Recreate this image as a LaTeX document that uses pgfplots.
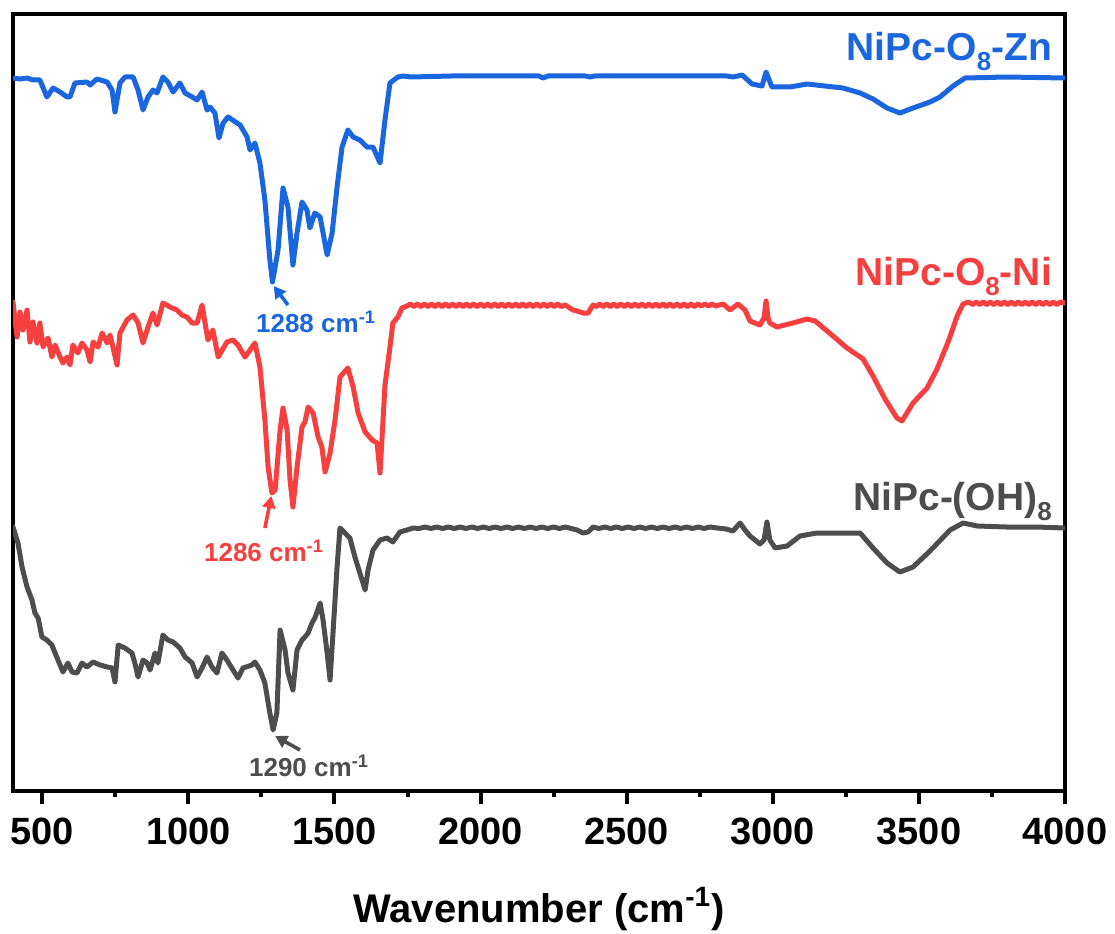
\documentclass[border=0pt]{standalone}
\usepackage{fontspec}
\setmainfont{Liberation Sans}
\usepackage{pgfplots}
\pgfplotsset{compat=1.18}
\usetikzlibrary{arrows.meta}
\definecolor{cblue}{RGB}{26,102,222}
\definecolor{cred}{RGB}{246,64,64}
\definecolor{cgray}{RGB}{77,77,77}
\newcommand{\sub}[1]{\raisebox{-5pt}{\fontsize{13}{13}\selectfont #1}}
\begin{document}
\begin{tikzpicture}
\path[use as bounding box] (-6.5pt,-71pt) rectangle (551pt,395.5pt);
\begin{axis}[
  at={(0,0)}, anchor=south west,
  scale only axis, width=526pt, height=388.5pt,
  xmin=400, xmax=4000, ymin=-791, ymax=-14,
  axis line style={line width=2pt},
  xtick={500,1000,...,4000}, minor x tick num=1,
  ytick=\empty, xtick pos=bottom,
  tick align=outside,
  major tick length=6.5pt, minor tick length=3pt,
  every tick/.style={black, line width=2pt},
  /pgf/number format/assume math mode=true,
  /pgf/number format/1000 sep={},
  xticklabel style={font=\bfseries\fontsize{19}{19}\selectfont, yshift=-3.5pt},
  xlabel={Wavenumber (cm\textsuperscript{-1})},
  xlabel style={font=\bfseries\fontsize{20}{20}\selectfont, at={(axis description cs:0.5,0)}, anchor=base, yshift=-65.5pt},
  clip=true,
  every axis plot/.style={line width=2.5pt, line join=round, line cap=round},
]
% NiPc-O8-Zn
\addplot[cblue] coordinates {
(400,-78)(424,-79)(448,-78)(468,-80)(492,-80)(516,-97)(537,-88)(561,-92)(585,-97)(595,-97)
(612,-83)(653,-82)(664,-85)(687,-79)(722,-82)(739,-90)(749,-112)(766,-83)(783,-77)(811,-77)
(828,-90)(845,-110)(862,-97)(879,-90)(893,-93)(913,-77)(930,-82)(948,-92)(971,-83)(989,-93)
(1013,-97)(1030,-100)(1047,-92)(1064,-110)(1074,-107)(1091,-113)(1105,-138)(1119,-123)(1136,-117)
(1177,-125)(1201,-137)(1211,-150)(1228,-143)(1245,-163)(1262,-200)(1279,-260)(1288,-282)
(1307,-250)(1324,-188)(1341,-207)(1358,-265)(1372,-233)(1389,-202)(1406,-210)(1416,-228)
(1433,-213)(1451,-217)(1475,-255)(1492,-233)(1509,-187)(1526,-147)(1546,-130)(1564,-137)
(1587,-140)(1611,-147)(1632,-147)(1656,-163)(1673,-120)(1690,-83)(1717,-77)(1735,-76)
(1760,-77)(1900,-76)(2100,-76)(2200,-76)(2214,-78)(2230,-76)(2360,-76)(2375,-77)(2390,-76)
(2600,-76)(2751,-76)(2843,-76)(2864,-77)(2895,-75)(2929,-84)(2963,-86)(2977,-72)(2997,-87)
(3059,-87)(3117,-84)(3240,-88)(3299,-93)(3343,-99)(3391,-108)(3435,-113)(3480,-108)(3538,-102)
(3572,-97)(3617,-86)(3658,-78)(3800,-77)(4000,-78)
};
% NiPc-O8-Ni
\addplot[cred] coordinates {
(400,-302)(414,-337)(424,-312)(434,-330)(448,-310)(458,-342)(468,-322)(482,-343)(492,-323)
(503,-347)(520,-338)(533,-357)(544,-345)(561,-357)(571,-363)(585,-357)(595,-365)(605,-345)
(622,-353)(636,-343)(653,-350)(664,-362)(674,-342)(691,-347)(705,-333)(722,-343)(732,-335)
(742,-347)(756,-365)(766,-333)(790,-320)(811,-315)(828,-323)(845,-343)(862,-327)(879,-313)
(893,-325)(913,-303)(937,-307)(961,-310)(978,-315)(995,-317)(1013,-323)(1030,-323)(1047,-305)
(1067,-340)(1084,-330)(1102,-357)(1132,-342)(1153,-340)(1170,-345)(1194,-357)(1211,-350)
(1228,-343)(1245,-367)(1262,-420)(1273,-467)(1286,-493)(1297,-490)(1314,-430)(1324,-408)
(1338,-430)(1348,-480)(1358,-507)(1372,-467)(1389,-427)(1399,-422)(1410,-407)(1427,-413)
(1444,-437)(1457,-447)(1468,-472)(1485,-453)(1502,-420)(1519,-377)(1546,-368)(1564,-387)
(1581,-413)(1605,-432)(1629,-440)(1646,-443)(1656,-473)(1673,-385)(1690,-347)(1700,-323)
(1717,-317)(1731,-308)(1748,-306)
(1760,-304)(1772,-306.5)(1784,-304)(1796,-306.5)(1808,-304)(1820,-306.5)(1832,-304)(1844,-306.5)
(1856,-304)(1868,-306.5)(1880,-304)(1892,-306.5)(1904,-304)(1916,-306.5)(1928,-304)(1940,-306.5)
(1952,-304)(1964,-306.5)(1976,-304)(1988,-306.5)(2000,-304)(2012,-306.5)(2024,-304)(2036,-306.5)
(2048,-304)(2060,-306.5)(2072,-304)(2084,-306.5)(2096,-304)(2108,-306.5)(2120,-304)(2132,-306.5)
(2144,-304)(2156,-306.5)(2168,-304)(2180,-306.5)(2192,-304)(2204,-306.5)(2216,-304)(2228,-306.5)
(2240,-304)(2252,-306.5)(2264,-304)(2276,-306.5)(2290,-305)(2316,-310)(2330,-311)(2351,-313)
(2368,-313)(2385,-305)(2396,-306.5)(2408,-304)(2420,-306.5)(2432,-304)(2444,-306.5)(2456,-304)
(2468,-306.5)(2480,-304)(2492,-306.5)(2504,-304)(2516,-306.5)(2528,-304)(2540,-306.5)(2552,-304)
(2564,-306.5)(2576,-304)(2588,-306.5)(2600,-304)(2612,-306.5)(2624,-304)(2636,-306.5)(2648,-304)
(2660,-306.5)(2672,-304)(2684,-306.5)(2696,-304)(2708,-306.5)(2720,-304)(2732,-306.5)(2744,-304)
(2756,-306)(2768,-304)(2780,-306)(2792,-304)(2804,-306)(2830,-304)(2854,-310)(2881,-304)
(2905,-310)(2922,-321)(2956,-325)(2970,-318)(2977,-301)(2984,-318)(2990,-323)(3014,-327)
(3069,-323)(3117,-319)(3145,-321)(3206,-336)(3254,-348)(3309,-359)(3343,-376)(3384,-399)
(3425,-418)(3442,-421)(3480,-403)(3528,-388)(3562,-369)(3600,-342)(3631,-316)(3651,-304)
(3670,-302)(3684,-304.5)(3696,-302)(3708,-304.5)(3720,-302)(3732,-304.5)(3744,-302)(3756,-304.5)
(3768,-302)(3780,-304.5)(3792,-302)(3804,-304.5)(3816,-302)(3828,-304.5)(3840,-302)(3852,-304.5)
(3864,-302)(3876,-304.5)(3888,-302)(3900,-304.5)(3912,-302)(3924,-304.5)(3936,-302)(3948,-304.5)
(3960,-302)(3972,-304.5)(3984,-302)(4000,-303)
};
% NiPc-(OH)8
\addplot[cgray] coordinates {
(400,-527)(417,-543)(431,-567)(448,-587)(465,-600)(475,-613)(486,-618)(499,-637)(516,-640)
(533,-645)(544,-653)(554,-660)(571,-672)(588,-663)(602,-672)(619,-673)(636,-663)(653,-667)
(674,-662)(698,-665)(722,-667)(739,-668)(749,-682)(760,-645)(783,-648)(807,-653)(817,-663)
(828,-677)(845,-660)(859,-663)(869,-670)(886,-653)(896,-663)(913,-635)(930,-640)(948,-642)
(971,-648)(989,-657)(1013,-663)(1030,-677)(1047,-668)(1064,-657)(1081,-667)(1098,-673)
(1115,-653)(1132,-660)(1153,-670)(1170,-678)(1187,-668)(1218,-665)(1228,-662)(1245,-670)
(1262,-683)(1279,-713)(1290,-730)(1303,-713)(1314,-630)(1331,-650)(1341,-673)(1358,-690)
(1372,-650)(1389,-640)(1399,-637)(1410,-633)(1423,-623)(1433,-618)(1451,-603)(1461,-620)
(1475,-653)(1485,-680)(1495,-633)(1509,-567)(1519,-528)(1536,-533)(1553,-538)(1570,-557)
(1587,-573)(1605,-590)(1615,-570)(1632,-550)(1656,-540)(1680,-538)(1700,-542)(1724,-532)
(1748,-530)(1769,-528)
(1790,-528.5)(1810,-527)(1830,-528.5)(1850,-527)(1870,-528.5)(1890,-527)(1910,-528.5)(1930,-527)
(1950,-528.5)(1970,-527)(1990,-528.5)(2010,-527)(2030,-528.5)(2050,-527)(2070,-528.5)(2090,-527)
(2110,-528.5)(2130,-527)(2150,-528.5)(2170,-527)(2190,-528.5)(2210,-527)(2230,-528.5)(2250,-527)
(2270,-528.5)(2290,-527)(2310,-528.5)(2330,-530)(2351,-533)(2368,-532)(2385,-527)(2405,-528.5)
(2425,-527)(2445,-528.5)(2465,-527)(2485,-528.5)(2505,-527)(2525,-528.5)(2545,-527)(2565,-528.5)
(2585,-527)(2605,-528.5)(2625,-527)(2645,-528.5)(2665,-527)(2685,-528.5)(2705,-527)(2725,-528.5)
(2745,-527)(2765,-528.5)(2785,-527)(2810,-528)(2840,-529)(2864,-531)(2888,-523)(2905,-530)
(2922,-536)(2956,-544)(2970,-540)(2980,-522)(2990,-540)(3008,-548)(3049,-546)(3093,-536)
(3151,-533)(3299,-533)(3343,-548)(3391,-563)(3435,-572)(3480,-567)(3538,-551)(3607,-530)
(3651,-523)(3700,-526)(3800,-527)(3900,-527)(4000,-528)
};
% series labels
\node[cblue, anchor=base east, font=\bfseries\fontsize{19.5}{19.5}\selectfont, xshift=-3pt] at (axis cs:4000,-61) {NiPc-O\sub{8}-Zn};
\node[cred, anchor=base east, font=\bfseries\fontsize{19.5}{19.5}\selectfont, xshift=-3pt] at (axis cs:4000,-285) {NiPc-O\sub{8}-Ni};
\node[cgray, anchor=base east, font=\bfseries\fontsize{19.5}{19.5}\selectfont, xshift=-3pt] at (axis cs:4000,-510) {NiPc-(OH)\sub{8}};
% peak annotations
\draw[cblue, line width=1.8pt, -{Triangle[length=6pt,width=6.5pt]}] (axis cs:1341,-305) -- (axis cs:1292,-286);
\node[cblue, anchor=base, font=\bfseries\fontsize{13}{13}\selectfont] at (axis cs:1437,-332) {1288 cm\textsuperscript{-1}};
\draw[cred, line width=1.8pt, -{Triangle[length=6pt,width=6.5pt]}] (axis cs:1262,-528) -- (axis cs:1284,-496);
\node[cred, anchor=base, font=\bfseries\fontsize{13}{13}\selectfont] at (axis cs:1259,-561) {1286 cm\textsuperscript{-1}};
\draw[cgray, line width=1.8pt, -{Triangle[length=6pt,width=6.5pt]}] (axis cs:1382,-750) -- (axis cs:1297,-736);
\node[cgray, anchor=base, font=\bfseries\fontsize{13}{13}\selectfont] at (axis cs:1413,-776) {1290 cm\textsuperscript{-1}};
\end{axis}
\end{tikzpicture}
\end{document}
